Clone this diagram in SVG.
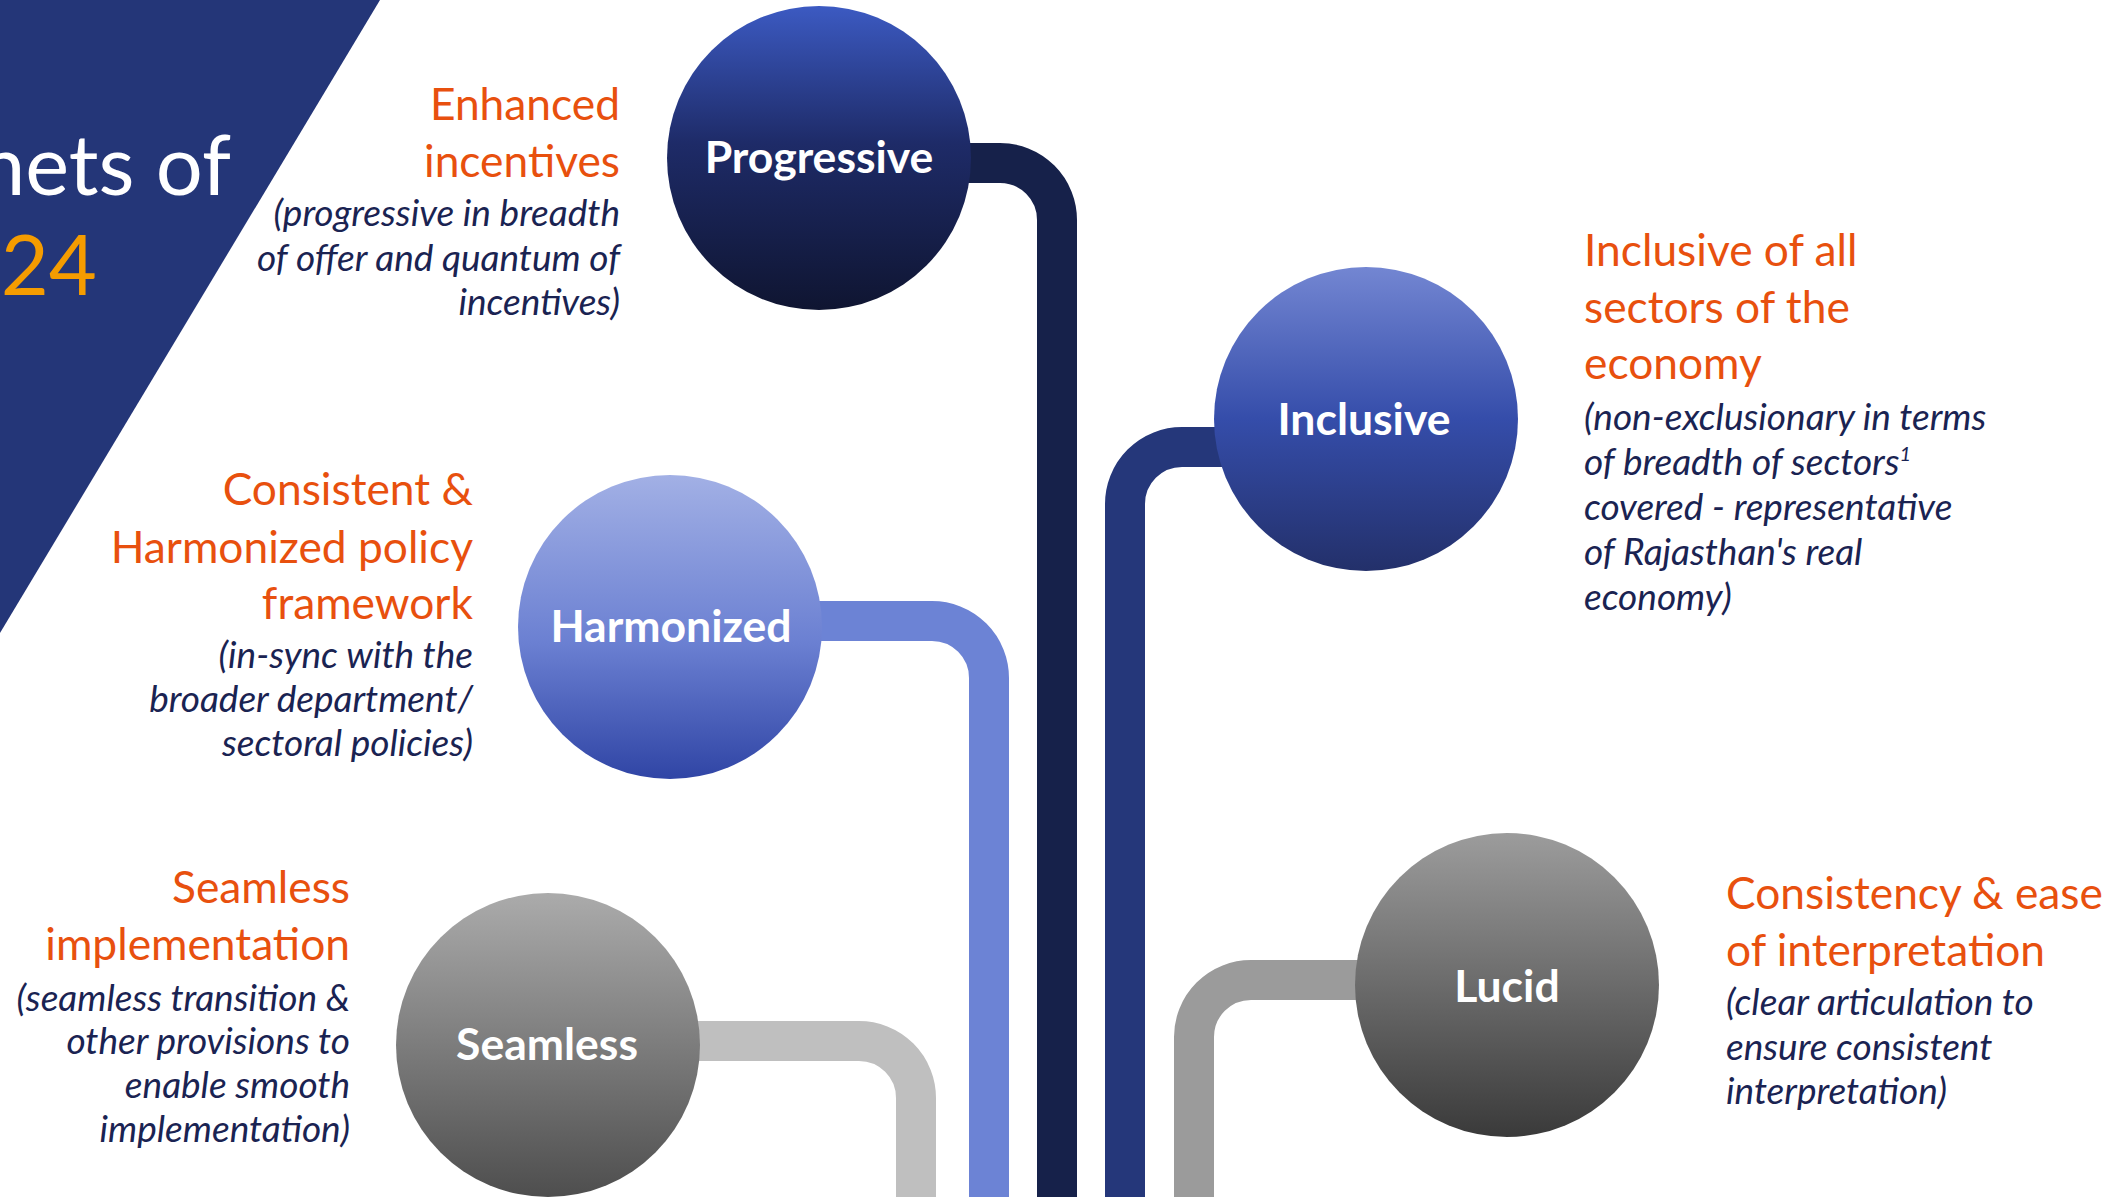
<svg xmlns="http://www.w3.org/2000/svg" width="2125" height="1197" viewBox="0 0 2125 1197">
  <defs>
    <linearGradient id="gradProgressive" x1="0" y1="0" x2="0" y2="1">
      <stop offset="0" stop-color="#3C5AC2"/>
      <stop offset="0.45" stop-color="#1E2B68"/>
      <stop offset="1" stop-color="#0F1531"/>
    </linearGradient>
    <linearGradient id="gradInclusive" x1="0" y1="0" x2="0" y2="1">
      <stop offset="0" stop-color="#7386D2"/>
      <stop offset="0.5" stop-color="#354DAA"/>
      <stop offset="1" stop-color="#23306A"/>
    </linearGradient>
    <linearGradient id="gradHarmonized" x1="0" y1="0" x2="0" y2="1">
      <stop offset="0" stop-color="#A2B0E5"/>
      <stop offset="0.55" stop-color="#6B80D2"/>
      <stop offset="1" stop-color="#3045A5"/>
    </linearGradient>
    <linearGradient id="gradSeamless" x1="0" y1="0" x2="0" y2="1">
      <stop offset="0" stop-color="#ABABAB"/>
      <stop offset="1" stop-color="#4E4E4E"/>
    </linearGradient>
    <linearGradient id="gradLucid" x1="0" y1="0" x2="0" y2="1">
      <stop offset="0" stop-color="#9C9C9C"/>
      <stop offset="1" stop-color="#3A3A3A"/>
    </linearGradient>
  </defs>
  <style>
    .head { font-family: Lato, "Liberation Sans", sans-serif; font-size: 44.3px; fill: #E8500E; }
    .note { font-family: Lato, "Liberation Sans", sans-serif; font-style: italic; font-size: 37px; fill: #1A2352; }
    .label { font-family: Lato, "Liberation Sans", sans-serif; font-weight: bold; font-size: 44.5px; fill: #FFFFFF; text-anchor: middle; }
    .right { text-anchor: end; }
    .conn { fill: none; stroke-width: 40; }
  </style>

  <rect width="2125" height="1197" fill="#FFFFFF"/>

  <!-- title wedge -->
  <g id="title">
    <polygon points="0,0 380,0 0,633" fill="#243678"/>
    <text x="231" y="195" text-anchor="end" font-family="Lato, 'Liberation Sans', sans-serif" font-size="83" fill="#FFFFFF">nets of</text>
    <text x="97" y="295" text-anchor="end" font-family="Lato, 'Liberation Sans', sans-serif" font-size="83" fill="#F59C00">024</text>
  </g>

  <!-- connectors run behind the circles -->
  <g id="connectors">
    <path class="conn" stroke="#16214A" d="M 900 163 H 1000 A 57 57 0 0 1 1057 220 V 1200"/>
    <path class="conn" stroke="#25377A" d="M 1300 447 H 1182 A 57 57 0 0 0 1125 504 V 1200"/>
    <path class="conn" stroke="#6C83D5" d="M 780 621 H 932 A 57 57 0 0 1 989 678 V 1200"/>
    <path class="conn" stroke="#BFBFBF" d="M 650 1041 H 859 A 57 57 0 0 1 916 1098 V 1200"/>
    <path class="conn" stroke="#9B9B9B" d="M 1420 980 H 1251 A 57 57 0 0 0 1194 1037 V 1200"/>
  </g>

  <g id="progressive">
    <circle cx="819" cy="158" r="152" fill="url(#gradProgressive)"/>
    <text class="label" x="819" y="173">Progressive</text>
    <text class="head right" x="620" y="120">Enhanced</text>
    <text class="head right" x="620" y="177">incentives</text>
    <text class="note right" x="620" y="226">(progressive in breadth</text>
    <text class="note right" x="620" y="271">of offer and quantum of</text>
    <text class="note right" x="620" y="315">incentives)</text>
  </g>

  <g id="inclusive">
    <circle cx="1366" cy="419" r="152" fill="url(#gradInclusive)"/>
    <text class="label" x="1364" y="435">Inclusive</text>
    <text class="head" x="1584" y="266">Inclusive of all</text>
    <text class="head" x="1584" y="323">sectors of the</text>
    <text class="head" x="1584" y="379">economy</text>
    <text class="note" x="1584" y="430">(non-exclusionary in terms</text>
    <text class="note" x="1584" y="475">of breadth of sectors<tspan font-size="20" dy="-14">1</tspan></text>
    <text class="note" x="1584" y="520">covered - representative</text>
    <text class="note" x="1584" y="565">of Rajasthan's real</text>
    <text class="note" x="1584" y="610">economy)</text>
  </g>

  <g id="harmonized">
    <circle cx="670" cy="627" r="152" fill="url(#gradHarmonized)"/>
    <text class="label" x="671" y="642">Harmonized</text>
    <text class="head right" x="473" y="505">Consistent &amp;</text>
    <text class="head right" x="473" y="563">Harmonized policy</text>
    <text class="head right" x="473" y="619">framework</text>
    <text class="note right" x="473" y="668">(in-sync with the</text>
    <text class="note right" x="473" y="712">broader department/</text>
    <text class="note right" x="473" y="756">sectoral policies)</text>
  </g>

  <g id="seamless">
    <circle cx="548" cy="1045" r="152" fill="url(#gradSeamless)"/>
    <text class="label" x="547" y="1060">Seamless</text>
    <text class="head right" x="350" y="903">Seamless</text>
    <text class="head right" x="350" y="960">implementation</text>
    <text class="note right" x="350" y="1011">(seamless transition &amp;</text>
    <text class="note right" x="350" y="1054">other provisions to</text>
    <text class="note right" x="350" y="1098">enable smooth</text>
    <text class="note right" x="350" y="1142">implementation)</text>
  </g>

  <g id="lucid">
    <circle cx="1507" cy="985" r="152" fill="url(#gradLucid)"/>
    <text class="label" x="1507" y="1002">Lucid</text>
    <text class="head" x="1726" y="909">Consistency &amp; ease</text>
    <text class="head" x="1726" y="966">of interpretation</text>
    <text class="note" x="1726" y="1015">(clear articulation to</text>
    <text class="note" x="1726" y="1060">ensure consistent</text>
    <text class="note" x="1726" y="1104">interpretation)</text>
  </g>
</svg>
